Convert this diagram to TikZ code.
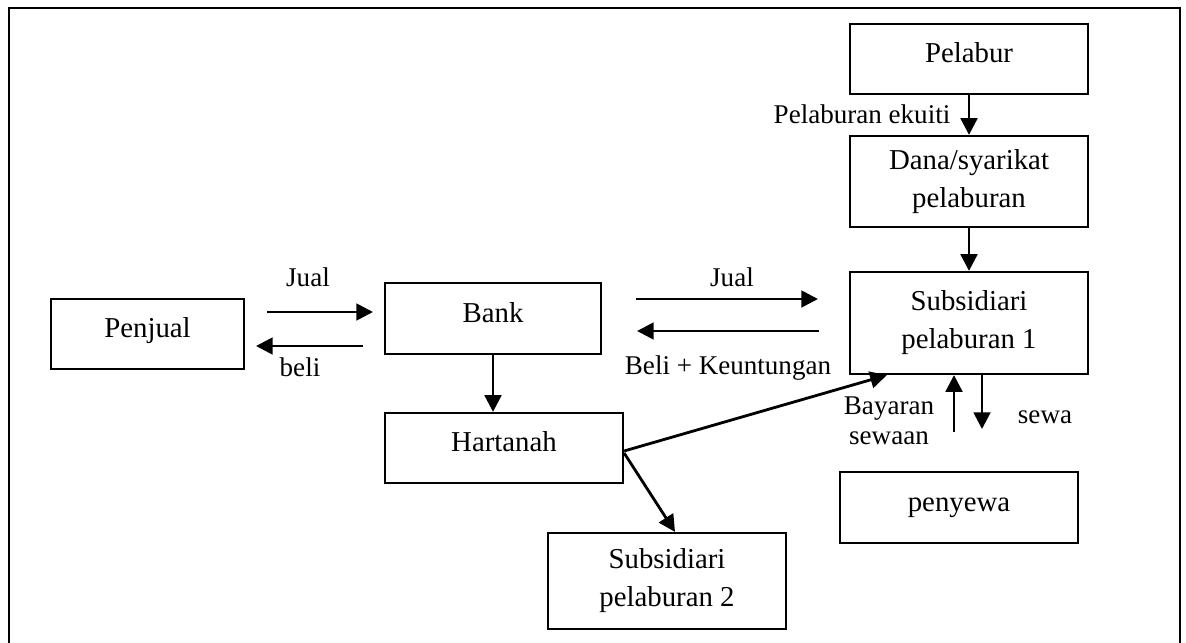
\documentclass[tikz,border=0pt]{standalone}
\usepackage{fontspec}
\setmainfont{Liberation Serif}
\usepackage{tikz}
\usetikzlibrary{arrows.meta,positioning}

\newcommand{\bxfont}{\fontsize{16.4}{21.6}\selectfont}
\newcommand{\lblfont}{\fontsize{15.4}{17}\selectfont}

\begin{document}
\begin{tikzpicture}[
  x=0.02cm, y=-0.02cm,
  frame/.style={draw,line width=1.3pt},
  box/.style={draw,line width=1.3pt,minimum width=4.76cm,minimum height=1.40cm,
              inner sep=0pt,align=center,font=\bxfont},
  onebox/.style={box,text height=0.5cm,text depth=0.36cm},
  flow/.style={-{Triangle[length=9.5pt,width=9.5pt]},line width=1.6pt},
  lbl/.style={inner sep=0pt,align=center,font=\lblfont}
]
  \useasboundingbox (0,0) rectangle (1186,642);
  \draw[frame] (9,8) rectangle (1180,700);

  % Boxes
  \node[onebox] (pelabur) at (969,59) {Pelabur};
  \node[box,minimum height=1.82cm] (dana) at (969,181.5) {Dana/syarikat\\pelaburan};
  \node[box,minimum height=2.04cm] (sub1) at (969,323) {Subsidiari\\pelaburan 1};
  \node[onebox,minimum height=1.42cm] (penyewa) at (959,507.5) {penyewa};
  \node[onebox,minimum width=3.86cm] (penjual) at (147.5,334) {Penjual};
  \node[onebox,minimum width=4.32cm,minimum height=1.42cm] (bank) at (493,318.5) {Bank};
  \node[onebox] (hartanah) at (504,448) {Hartanah};
  \node[box,minimum height=1.92cm] (sub2) at (667,581) {Subsidiari\\pelaburan 2};

  % Free arrow ends
  \coordinate (jualA) at (267,312);
  \coordinate (jualB) at (373,312);
  \coordinate (beliA) at (363,346);
  \coordinate (beliB) at (256,346);
  \coordinate (jualC) at (636,299);
  \coordinate (jualD) at (818,299);
  \coordinate (untungA) at (819,331);
  \coordinate (untungB) at (637,331);
  \coordinate (bayar) at (954,432);
  \coordinate (sewa) at (982,429);

  % Arrows
  \draw[flow] (pelabur) -- (dana);
  \draw[flow] (dana) -- (sub1);
  \draw[flow] (jualA) -- (jualB);
  \draw[flow] (beliA) -- (beliB);
  \draw[flow] (jualC) -- (jualD);
  \draw[flow] (untungA) -- (untungB);
  \draw[flow] (bank.south) -- (bank.south |- hartanah.north);
  \draw[flow] ([yshift=-0.06cm]hartanah.east) -- ([xshift=0.76cm]sub1.south west);
  \draw[flow] ([yshift=-0.1cm]hartanah.east) -- ([xshift=0.16cm]sub2.north);
  \draw[flow] (bayar) -- (bayar |- sub1.south);
  \draw[flow] (sewa |- sub1.south) -- (sewa);

  % Labels
  \node[lbl] (lJual1) at (308,277) {Jual};
  \node[lbl] (lBeli1) at (300,367) {beli};
  \node[lbl] (lJual2) at (732,277) {Jual};
  \node[lbl] (lBeli2) at (728,368) {Beli + Keuntungan};
  \node[lbl] (lEkuiti) at (862,114) {Pelaburan ekuiti};
  \node[lbl] (lBayar) at (889,421) {Bayaran\\sewaan};
  \node[lbl] (lSewa) at (1045,417) {sewa};
\end{tikzpicture}
\end{document}
